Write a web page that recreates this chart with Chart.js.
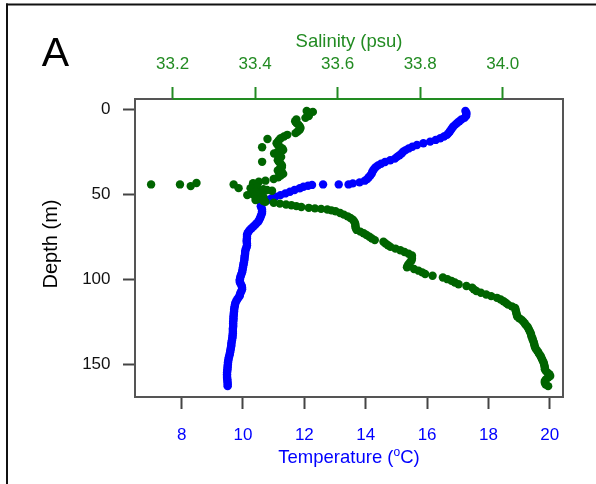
<!DOCTYPE html>
<html><head><meta charset="utf-8">
<script src="https://cdn.jsdelivr.net/npm/chart.js@4/dist/chart.umd.min.js"></script>
<style>html,body{margin:0;padding:0;background:#fff;}canvas{display:block;}</style>
</head><body>
<canvas id="c" width="596" height="484"></canvas>
<script>
// ---- data ----
const depthT = [1,2,3,4,5,6,7,8,9,10,11,12,13,14,15,16,17,18,19,20,21,22,23,24,25,26,27,28,29,30,31,32,33,34,35,36,37,38,39,40,41,42,43,
 43.6,44.2,44.2,44.2,44.5,45,45.6,46.5,47.5,48.5,49.5,50.5,51.5,52.5,53.5,54.5,55.5,
 56,57,58,59,60,61,62,63,64,65,66,67,68,69,70,71,72,73,74,75,76,77,78,79,80,81,82,83,84,85,86,87,88,89,90,
 91,92,93,94,95,96,97,98,99,100,101,102,103,104,105,106,107,108,109,110,111,112,113,114,115,116,117,118,119,120,
 121,122,123,124,125,126,127,128,129,130,131,132,133,134,135,136,137,138,139,140,141,142,143,144,145,146,147,148,149,150,
 151,152,153,154,155,156,157,158,159,160,161,162,163];
const temperature = [17.25,17.28,17.28,17.27,17.22,17.12,17.05,16.98,16.92,16.86,16.82,16.78,16.74,16.70,16.65,16.55,16.43,16.28,16.10,15.88,
 15.67,15.52,15.40,15.30,15.22,15.17,15.10,15.02,14.95,14.80,14.63,14.50,14.40,14.33,14.28,14.24,14.21,14.19,14.15,14.10,14.05,13.97,13.80,
 13.58,13.44,13.12,12.61,12.25,12.12,11.97,11.85,11.68,11.53,11.38,11.22,11.05,10.92,10.78,10.68,10.62,
 10.60,10.58,10.60,10.62,10.62,
 10.62,10.60,10.58,10.56,10.53,10.50,10.45,10.40,10.34,10.28,
 10.22,10.18,10.15,10.13,10.13,10.13,10.12,10.12,10.13,10.13,
 10.12,10.10,10.08,10.07,10.07,10.06,10.05,10.05,10.04,10.03,
 10.02,10.01,10.00,9.99,9.98,9.97,9.95,9.93,9.91,9.90,
 9.89,9.90,9.93,9.96,9.97,9.97,9.95,9.92,9.90,9.89,
 9.85,9.81,9.78,9.75,9.74,9.73,9.72,9.71,9.71,9.70,
 9.70,9.69,9.69,9.69,9.68,9.68,9.68,9.68,9.67,9.67,
 9.67,9.67,9.66,9.66,9.65,9.64,9.63,9.62,9.62,9.61,
 9.60,9.59,9.58,9.57,9.56,9.54,9.53,9.52,9.51,9.51,
 9.50,9.50,9.49,9.49,9.48,9.48,9.48,9.48,9.49,9.49,
 9.50,9.50,9.50];
const depthS = [1,1.5,2,3,4,5,6,7,8,9,10,11,12,13,14,15,16,17,17.5,18,19,20,21,22,22.3,23,24,25,26,27,28,29,30,30.9,31,32,33,34,35,36,37,38,39,40,41,42,42.6,
 43.4,44.2,44.2,45.2,44.2,46.4,
 43.5,45,45.9,46.5,47,47.5,47.9,48.5,49,49.5,50,50.5,51,51.5,52,52.4,53,53.4,54,54.4,
 55,55.5,56,56.5,57,57.5,58,58.3,58.6,59,59.5,60,
 61,62,63,64,65,66,67,68,69,70,71,72,73,74,75,76,77,78,79,80,81,82,83,84,85,86,87,88,89,90,
 91,92,93,94,95,96,97,98,99,100,101,102,103,104,105,106,107,108,109,110,111,112,113,114,115,116,117,118,119,120,
 121,122,123,124,125,126,127,128,129,130,131,132,133,134,135,136,137,138,139,140,141,142,143,144,145,146,147,148,149,150,
 151,152,153,154,155,156,157,158,159,160,161,162,163];
const salinity = [33.525,33.540,33.532,33.528,33.530,33.522,33.500,33.497,33.500,33.505,33.508,33.510,33.508,33.503,33.498,33.478,33.470,33.462,33.430,33.458,
 33.455,33.452,33.455,33.460,33.417,33.466,33.468,33.455,33.446,33.455,33.463,33.460,33.455,33.417,33.458,33.462,33.465,33.465,33.460,33.455,
 33.465,33.468,33.462,33.456,33.445,33.425,33.409,
 33.258,33.148,33.218,33.244,33.348,33.360,
 33.395,33.395,33.405,33.389,33.420,33.429,33.441,33.401,33.415,33.417,33.395,33.381,33.400,33.420,33.410,33.413,33.405,33.401,33.420,33.425,
 33.445,33.460,33.475,33.488,33.500,33.512,33.530,33.545,33.560,33.575,33.585,33.595,
 33.606,33.615,33.624,33.631,33.637,33.640,33.642,33.643,33.643,33.644,
 33.646,33.655,33.663,33.670,33.677,33.683,33.690,33.711,33.716,33.722,
 33.728,33.740,33.752,33.762,33.772,33.780,33.780,33.780,33.779,33.776,
 33.772,33.770,33.768,33.785,33.796,33.805,33.812,33.830,33.855,33.866,
 33.876,33.884,33.893,33.912,33.926,33.930,33.936,33.947,33.960,33.972,
 33.986,33.995,34.002,34.008,34.013,34.022,34.030,34.031,34.032,34.033,
 34.034,34.035,34.040,34.046,34.050,34.053,34.056,34.060,34.062,34.064,
 34.066,34.068,34.069,34.070,34.072,34.073,34.075,34.076,34.077,34.078,
 34.080,34.083,34.086,34.088,34.091,34.093,34.095,34.097,34.099,34.100,
 34.101,34.102,34.102,34.104,34.108,34.113,34.115,34.110,34.105,34.102,
 34.102,34.104,34.110];
const tempTicks = [8,10,12,14,16,18,20];
const salTicks = [33.2,33.4,33.6,33.8,34.0];
const depthTicks = [0,50,100,150];

// ---- styling ----
const FONT = '"Liberation Sans", Arial, sans-serif';
const BLUE = '#0000ff';
const DKGREEN = '#006400';
const AXGREEN = '#228b22';

const decor = {
  id: 'decor',
  afterDraw(chart) {
    const {ctx, chartArea: ca, scales} = chart;
    ctx.save();
    ctx.strokeStyle = '#555'; ctx.lineWidth = 2;
    ctx.strokeRect(ca.left, ca.top, ca.right - ca.left, ca.bottom - ca.top);
    const gx0 = scales.x2.getPixelForValue(salTicks[0]);
    const gx1 = scales.x2.getPixelForValue(salTicks[salTicks.length - 1]);
    ctx.strokeStyle = AXGREEN;
    ctx.beginPath(); ctx.moveTo(gx0, ca.top); ctx.lineTo(gx1, ca.top); ctx.stroke();
    // outer frame
    ctx.fillStyle = '#111';
    ctx.fillRect(6, 3.5, 590, 2);
    ctx.fillRect(6, 3.5, 2, 480.5);
    // panel letter
    ctx.fillStyle = '#000';
    ctx.font = '41px ' + FONT; ctx.textAlign = 'center'; ctx.textBaseline = 'alphabetic';
    ctx.fillText('A', 55.5, 66);
    const cx = (ca.left + ca.right) / 2;
    // salinity title
    ctx.fillStyle = AXGREEN; ctx.font = '18.5px ' + FONT;
    ctx.fillText('Salinity (psu)', cx, 47);
    // temperature title with superscript o
    ctx.fillStyle = BLUE; ctx.textAlign = 'left';
    ctx.font = '18.5px ' + FONT;
    const p1 = 'Temperature (', p3 = 'C)';
    const w1 = ctx.measureText(p1).width, w3 = ctx.measureText(p3).width;
    ctx.font = '12px ' + FONT;
    const w2 = ctx.measureText('o').width;
    let sx = cx - (w1 + w2 + w3) / 2;
    ctx.font = '18.5px ' + FONT; ctx.fillText(p1, sx, 463); sx += w1;
    ctx.font = '12px ' + FONT; ctx.fillText('o', sx, 456); sx += w2;
    ctx.font = '18.5px ' + FONT; ctx.fillText(p3, sx, 463);
    // depth title
    ctx.save();
    ctx.translate(51, 244);
    ctx.rotate(-Math.PI / 2);
    ctx.textAlign = 'center'; ctx.textBaseline = 'middle'; ctx.fillStyle = '#000';
    ctx.font = '20px ' + FONT;
    ctx.fillText('Depth (m)', 0, 0);
    ctx.restore();
    ctx.restore();
  }
};

new Chart(document.getElementById('c'), {
  type: 'scatter',
  data: {
    datasets: [
      { label: 'Salinity (psu)', data: depthS.map((d, i) => ({x: salinity[i], y: d})),
        xAxisID: 'x2', yAxisID: 'y', backgroundColor: DKGREEN, borderWidth: 0, pointRadius: 4.2, order: 0 },
      { label: 'Temperature (°C)', data: depthT.map((d, i) => ({x: temperature[i], y: d})),
        xAxisID: 'x', yAxisID: 'y', backgroundColor: BLUE, borderWidth: 0, pointRadius: 4.2, order: 1 }
    ]
  },
  options: {
    responsive: false, animation: false, devicePixelRatio: 1, events: [],
    layout: { padding: { left: 0, right: 33, top: 0, bottom: 0 } },
    plugins: { legend: { display: false }, tooltip: { enabled: false } },
    scales: {
      x: {
        type: 'linear', position: 'bottom', min: 6.48, max: 20.43,
        afterBuildTicks: s => { s.ticks = tempTicks.map(v => ({value: v})); },
        afterFit: s => { s.height = 87; },
        ticks: { color: BLUE, font: {family: FONT, size: 17}, padding: 16.3, maxRotation: 0, autoSkip: false,
                 callback: v => String(v) },
        grid: { drawOnChartArea: false, drawTicks: true, tickLength: 12, tickColor: '#444', tickWidth: 2 },
        border: { display: false }
      },
      x2: {
        type: 'linear', position: 'top', min: 33.109, max: 34.146,
        afterBuildTicks: s => { s.ticks = salTicks.map(v => ({value: v})); },
        afterFit: s => { s.height = 99; },
        ticks: { color: AXGREEN, font: {family: FONT, size: 17}, padding: 12.3, maxRotation: 0, autoSkip: false,
                 callback: v => Number(v).toFixed(1) },
        grid: { drawOnChartArea: false, drawTicks: true, tickLength: 12, tickColor: AXGREEN, tickWidth: 2 },
        border: { display: false }
      },
      y: {
        type: 'linear', position: 'left', reverse: true, min: -6.1, max: 169.4,
        afterBuildTicks: s => { s.ticks = depthTicks.map(v => ({value: v})); },
        afterFit: s => { s.width = 135; },
        ticks: { color: '#111', font: {family: FONT, size: 17}, padding: 12.5, autoSkip: false,
                 callback: v => String(v) },
        grid: { drawOnChartArea: false, drawTicks: true, tickLength: 12, tickColor: '#444', tickWidth: 2 },
        border: { display: false }
      }
    }
  },
  plugins: [decor]
});
</script>
</body></html>
